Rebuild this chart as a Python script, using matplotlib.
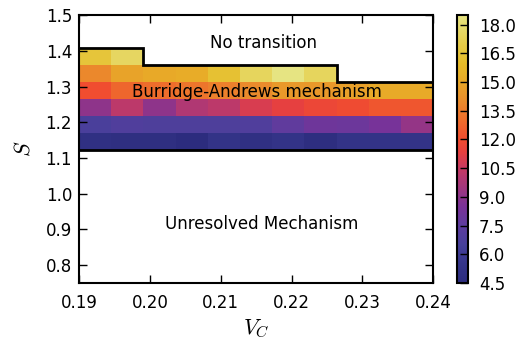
import numpy as np
import matplotlib
matplotlib.use("Agg")
import matplotlib.pyplot as plt
from matplotlib.colors import LinearSegmentedColormap

plt.rcParams['font.family'] = ['DejaVu Sans']
plt.rcParams['mathtext.fontset'] = 'cm'

# Rejilla de V_C y S (bordes de celdas)
vc_bordes = np.linspace(0.19, 0.24, 12)
s_bordes = np.array([1.122, 1.170, 1.217, 1.265, 1.313, 1.360, 1.408])

# Valores por fila (de abajo hacia arriba), nan = sin transicion
fila1 = [4.9, 4.8, 4.8, 4.5, 5.3, 4.9, 5.3, 4.7, 5.3, 5.3, 5.3]
fila2 = [6.6, 6.9, 6.8, 6.8, 6.8, 6.9, 7.6, 8.1, 8.0, 8.4, 9.2]
fila3 = [9.0, 10.2, 9.0, 9.9, 10.2, 10.9, 11.3, 11.7, 11.9, 12.3, 12.3]
fila4 = [12.0, 12.8, 13.0, 13.3, 13.6, 14.0, 14.5, 14.4, 14.7, 15.1, 15.1]
fila5 = [13.9, 14.8, 15.0, 15.2, 16.3, 17.5, 18.5, 17.5, np.nan, np.nan, np.nan]
fila6 = [16.5, 17.6, np.nan, np.nan, np.nan, np.nan, np.nan, np.nan, np.nan, np.nan, np.nan]

cbar_ticks = [4.5, 6.0, 7.5, 9.0, 10.5, 12.0, 13.5, 15.0, 16.5, 18.0]

datos = np.ma.masked_invalid(np.array([fila1, fila2, fila3, fila4, fila5, fila6]))

# mapa de color parecido al original
colores = [(0.0, '#2c2c7e'), (0.07, '#35358a'), (0.14, '#47409a'), (0.21, '#5c3c9e'),
           (0.285, '#7a3298'), (0.355, '#a0367e'), (0.43, '#c83a62'), (0.485, '#e64040'),
           (0.535, '#f04c30'), (0.61, '#ee6e2c'), (0.68, '#ea8c2c'), (0.75, '#e8a828'),
           (0.82, '#e6bc28'), (0.89, '#e6cc48'), (1.0, '#e6e482')]
cmap = LinearSegmentedColormap.from_list('mapa', colores)

fig = plt.figure(figsize=(5.2, 3.43), dpi=100)
ax = fig.add_axes([0.152, 0.175, 0.681, 0.781])
cax = fig.add_axes([0.879, 0.175, 0.021, 0.781])

malla = ax.pcolormesh(vc_bordes, s_bordes, datos, cmap=cmap, vmin=4.5, vmax=18.5)

# borde superior de la region con datos
arriba = []
for j in range(datos.shape[1]):
    filas_ok = np.where(~datos.mask[:, j])[0]
    arriba.append(s_bordes[filas_ok.max() + 1])
ax.stairs(arriba, vc_bordes, baseline=None, color='k', lw=2)
ax.hlines(s_bordes[0], vc_bordes[0], vc_bordes[-1], color='k', lw=2)

ax.text(0.216, 1.422, "No transition", ha='center', va='center', fontsize=12)
ax.text(0.2151, 1.285, "Burridge-Andrews mechanism", ha='center', va='center', fontsize=12)
ax.text(0.2158, 0.916, "Unresolved Mechanism", ha='center', va='center', fontsize=12)

ax.set_xlim(0.19, 0.24)
ax.set_ylim(0.75, 1.5)
ax.set_xticks([0.19, 0.20, 0.21, 0.22, 0.23, 0.24])
ax.set_yticks([0.8, 0.9, 1.0, 1.1, 1.2, 1.3, 1.4, 1.5])
ax.tick_params(direction='in', top=True, right=True, length=6, width=1, labelsize=12)
ax.tick_params(axis='x', pad=8)
ax.tick_params(axis='y', pad=5)
for sp in ax.spines.values():
    sp.set_linewidth(1.5)
ax.set_xlabel("$V_C$", fontsize=16, labelpad=4)
ax.set_ylabel("$S$", fontsize=16, labelpad=9)

cb = fig.colorbar(malla, cax=cax, ticks=cbar_ticks)
cb.ax.tick_params(direction='in', length=6, width=1, labelsize=12, pad=8)
cb.outline.set_linewidth(1.5)

fig.savefig("out.png", dpi=100)
